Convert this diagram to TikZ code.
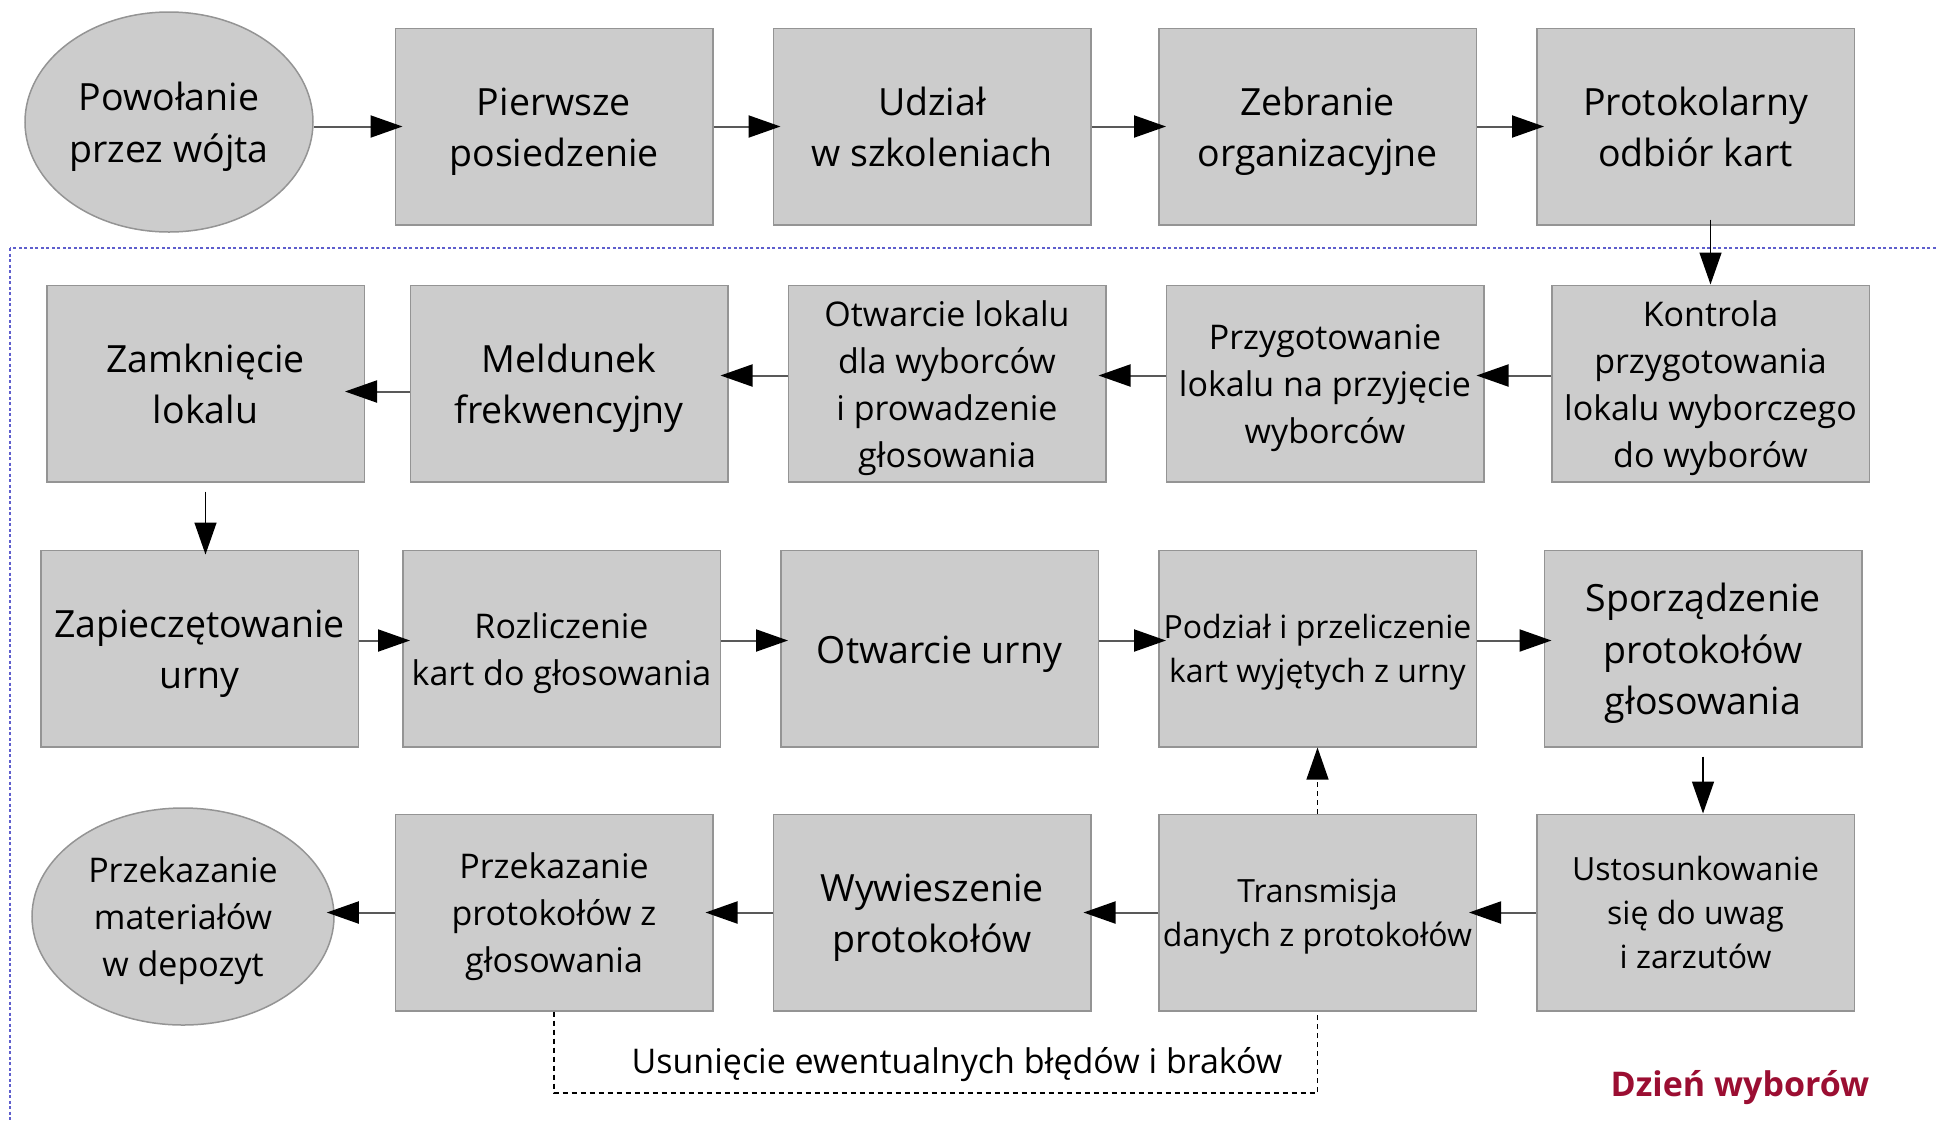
\documentclass[tikz,border=0pt]{standalone}
\usepackage{fontspec}
\setmainfont{Open Sans}
\usepackage{tikz}
\usetikzlibrary{arrows.meta,shapes.geometric}
\tikzset{>={Triangle[length=32pt,width=22pt,color=black]}}
\usepackage{xcolor}
\colorlet{boxfill}{black!20}
\colorlet{boxline}{black!42}
\colorlet{linkgray}{black!65}
\definecolor{frameblue}{RGB}{95,95,205}
\definecolor{dayred}{RGB}{155,14,50}
% full line height of the font, put in first and last line
\newcommand{\osstrut}{\rule[-0.293em]{0pt}{1.362em}}
\tikzstyle{box}=[rectangle,draw=boxline,fill=boxfill,line width=1.5pt,minimum width=317.5pt,minimum height=196.5pt,inner sep=0pt,align=center]
\tikzstyle{box big}=[box,font=\fontsize{37.5}{51.5}\selectfont]
\tikzstyle{box mid}=[box,font=\fontsize{34}{47}\selectfont]
\tikzstyle{box small}=[box,font=\fontsize{32}{44}\selectfont]
\tikzstyle{oval}=[ellipse,draw=boxline,fill=boxfill,line width=1.5pt,inner sep=0pt,align=center]
\tikzstyle{connect}=[->,linkgray,line width=2pt,shorten >=-8pt]
\tikzstyle{connect down}=[->,black,line width=1.5pt]
\tikzstyle{connect dashed}=[black,line width=1.2pt,dash pattern=on 5pt off 4pt]

\begin{document}
\begin{tikzpicture}[x=1pt,y=-1pt]
    \useasboundingbox (0,0) rectangle (1937,1120);

    % DAY FRAME
    \draw[frameblue,line width=1.5pt,dash pattern=on 3pt off 2.5pt] (10,248) rectangle (1965,1145);

    % DRAW NODES
    % first row
    \node[oval,minimum width=288pt,minimum height=220pt,font=\fontsize{37.5}{51.5}\selectfont] (powolanie) at (169,122) {\osstrut Powołanie\\przez wójta\osstrut};
    \node[box big] (pierwsze) at (554,126.5) {\osstrut Pierwsze\\posiedzenie\osstrut};
    \node[box big] (udzial) at (932,126.5) {\osstrut Udział\\w szkoleniach\osstrut};
    \node[box big] (zebranie) at (1317.5,126.5) {\osstrut Zebranie\\organizacyjne\osstrut};
    \node[box big] (odbior) at (1695.5,126.5) {\osstrut Protokolarny\\odbiór kart\osstrut};
    % second row
    \node[box big] (zamkniecie) at (205.5,383.5) {\osstrut Zamknięcie\\lokalu\osstrut};
    \node[box big] (meldunek) at (569,383.5) {\osstrut Meldunek\\frekwencyjny\osstrut};
    \node[box mid] (otwlokal) at (947,383.5) {\osstrut Otwarcie lokalu\\dla wyborców\\i prowadzenie\\głosowania\osstrut};
    \node[box mid] (przygot) at (1325,383.5) {\osstrut Przygotowanie\\lokalu na przyjęcie\\wyborców\osstrut};
    \node[box mid] (kontrola) at (1710.5,383.5) {\osstrut Kontrola\\przygotowania\\lokalu wyborczego\\do wyborów\osstrut};
    % third row
    \node[box big] (zapiecz) at (199.5,648.5) {\osstrut Zapieczętowanie\\urny\osstrut};
    \node[box mid] (rozlicz) at (561.5,648.5) {\osstrut Rozliczenie\\kart do głosowania\osstrut};
    \node[box big] (otwurny) at (939.5,648.5) {\osstrut Otwarcie urny};
    \node[box small] (podzial) at (1317.5,648.5) {\osstrut Podział i przeliczenie\\kart wyjętych z urny\osstrut};
    \node[box big] (sporzadz) at (1703,648.5) {\osstrut Sporządzenie\\protokołów\\głosowania\osstrut};
    % fourth row
    \node[oval,minimum width=302pt,minimum height=217pt,font=\fontsize{34}{47}\selectfont] (przekmat) at (183,916.5) {\osstrut Przekazanie\\materiałów\\w depozyt\osstrut};
    \node[box mid] (przekprot) at (554,912.5) {\osstrut Przekazanie\\protokołów z\\głosowania\osstrut};
    \node[box big] (wywiesz) at (932,912.5) {\osstrut Wywieszenie\\protokołów\osstrut};
    \node[box small] (transm) at (1317.5,912.5) {\osstrut Transmisja\\danych z protokołów\osstrut};
    \node[box small] (ustos) at (1695.5,912.5) {\osstrut Ustosunkowanie\\się do uwag\\i zarzutów\osstrut};

    \node[font=\fontsize{34}{47}\selectfont] (usuniecie) at (957,1060) {\osstrut Usunięcie ewentualnych błędów i braków};
    \node[font=\bfseries\fontsize{34}{47}\selectfont,text=dayred] (dzien) at (1740,1083) {\osstrut Dzień wyborów};

    % DRAW EDGES
    \foreach \a/\b in {powolanie/pierwsze,pierwsze/udzial,udzial/zebranie,zebranie/odbior}
        \draw[connect] (\a.east |- \b.west) -- (\b.west);
    \foreach \a/\b in {kontrola/przygot,przygot/otwlokal,otwlokal/meldunek}
        \draw[connect] ([yshift=8pt]\a.west) -- ([yshift=8pt]\b.east);
    \draw[connect,shorten >=-20pt] ([yshift=-8pt]meldunek.west) -- ([yshift=-8pt]zamkniecie.east);
    \foreach \a/\b in {zapiecz/rozlicz,rozlicz/otwurny,otwurny/podzial,podzial/sporzadz}
        \draw[connect] ([yshift=8pt]\a.east) -- ([yshift=8pt]\b.west);
    \foreach \a/\b in {ustos/transm,transm/wywiesz,wywiesz/przekprot,przekprot/przekmat}
        \draw[connect] (\a.west) -- (\a.west -| \b.east);

    % down the rows
    \draw[connect down] ([yshift=6pt]odbior.south -| kontrola.north) -- (kontrola.north);
    \draw[connect down] ([yshift=-9pt]zamkniecie.south) -- ([yshift=-5pt]zamkniecie.south |- zapiecz.north);
    \draw[connect down] ([yshift=-9pt]sporzadz.south) -- (sporzadz.south |- ustos.north);

    % corrections loop
    \coordinate (fixline) at (0,1093);
    \draw[connect dashed,->] (transm.north) -- (transm.north |- podzial.south);
    \draw[connect dashed] (przekprot.south) -- (przekprot.south |- fixline) -| (transm.south);
\end{tikzpicture}
\end{document}
